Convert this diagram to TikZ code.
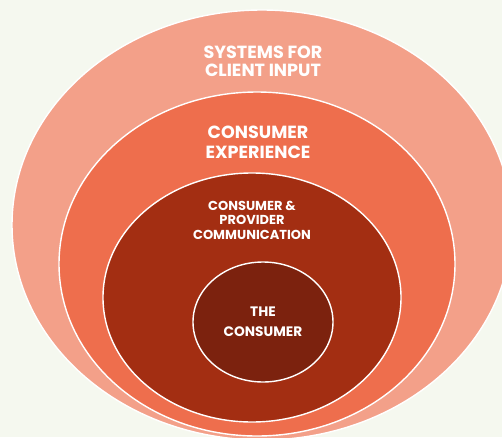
\documentclass[tikz,border=0pt]{standalone}
\usepackage{fontspec}
\setmainfont{Poppins}
\usetikzlibrary{shapes.geometric, positioning}
\definecolor{bgpale}{HTML}{F5F8EF}
\definecolor{ringone}{HTML}{F3A089}
\definecolor{ringtwo}{HTML}{EE6E4D}
\definecolor{ringthree}{HTML}{A32E12}
\definecolor{ringfour}{HTML}{7C220E}
\tikzstyle{ring} = [ellipse, draw=white, line width=0.8pt, inner sep=0pt]
\tikzstyle{ringtext} = [text=white, font=\bfseries, align=center, inner sep=0pt]

\begin{document}
\begin{tikzpicture}[node distance=1cm, on grid]
	\useasboundingbox (0,0) rectangle (10.04,-8.74);
	\fill[bgpale] (0,0) rectangle (10.04,-8.74);
	\clip (0,0) rectangle (10.04,-8.74);

	% the four nested rings
	\node (outer) [ring, fill=ringone, minimum width=10cm, minimum height=8.6cm] at (5.24,-4.50) {};
	\node (exper) [ring, fill=ringtwo, minimum width=7.92cm, minimum height=6.88cm, below=0.78cm of outer, xshift=-0.1cm] {};
	\node (comm) [ring, fill=ringthree, minimum width=5.96cm, minimum height=4.98cm, below=0.67cm of exper, xshift=-0.1cm] {};
	\node (core) [ring, fill=ringfour, minimum width=2.8cm, minimum height=2.4cm, below=0.49cm of comm, xshift=0.22cm] {};

	% labels
	\node (sysText) [ringtext, font=\fontsize{10}{10.8}\selectfont\bfseries, xshift=0.02cm, yshift=-1.04cm] at (outer.north) {SYSTEMS FOR\\CLIENT INPUT};
	\node (experText) [ringtext, font=\fontsize{10}{11.4}\selectfont\bfseries, xshift=0.02cm, yshift=-1.02cm] at (exper.north) {CONSUMER\\EXPERIENCE};
	\node (commText) [ringtext, font=\fontsize{7.4}{8.2}\selectfont\bfseries, yshift=-0.96cm] at (comm.north) {CONSUMER \&\\PROVIDER\\COMMUNICATION};
	\node (coreText) [ringtext, font=\fontsize{7.8}{11.4}\selectfont\bfseries] at (core) {THE\\CONSUMER};
\end{tikzpicture}
\end{document}
